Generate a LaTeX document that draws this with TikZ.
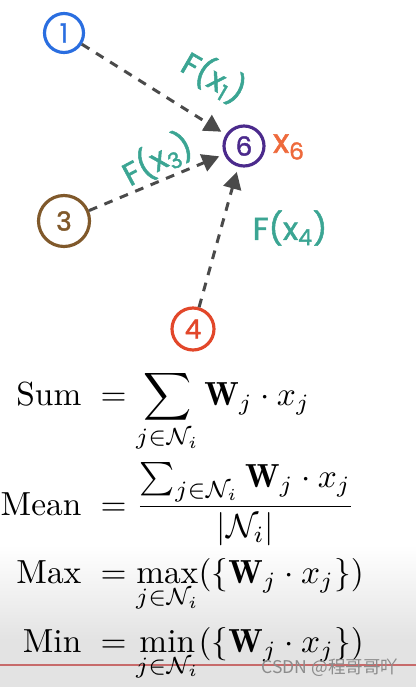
\documentclass[tikz,border=0pt]{standalone}
\usepackage{amsmath}
\usepackage{fontspec}
\newfontfamily\handfont{Poppins}[FakeBold=1.6]
\newfontfamily\cjkfont{Noto Sans CJK SC}
\usetikzlibrary{arrows.meta}
\definecolor{nblue}{HTML}{2A6EE0}
\definecolor{npurple}{HTML}{4B2A8C}
\definecolor{nbrown}{HTML}{80592B}
\definecolor{nred}{HTML}{E2472A}
\definecolor{xorange}{HTML}{EE6A3C}
\definecolor{fteal}{HTML}{3BA593}
\definecolor{agray}{HTML}{4A4A4A}

\begin{document}
\begin{tikzpicture}[x=0.02cm,y=-0.02cm,nd/.style={circle,draw,line width=1.8pt,inner sep=0pt,minimum size=0.78cm,font=\handfont\fontsize{15}{15}\selectfont},a/.style={-{Triangle[length=3.4mm,width=3.6mm]},dash pattern=on 5pt off 4.5pt,line width=1.7pt,draw=agray,shorten >=3pt},lbl/.style={text=fteal,font=\handfont\fontsize{18}{18}\selectfont},eq/.style={inner sep=0pt,scale=1.9,transform shape}]
\useasboundingbox (0,0) rectangle (416,687);
% video overlay at the bottom
\shade[top color=white,bottom color=black!11] (0,545) rectangle (416,640);
\fill[black!11] (0,640) rectangle (416,687);
\draw[red!45!gray!80,line width=0.6pt] (0,665) -- (416,665);
% graph
\node[nd,draw=nblue,text=nblue] (n1) at (64,33) {1};
\node[nd,draw=npurple,text=npurple,minimum size=0.8cm] (n6) at (244,146) {6};
\node[nd,draw=nbrown,text=nbrown,minimum size=1.02cm] (n3) at (64,221) {3};
\node[nd,draw=nred,text=nred,minimum size=0.84cm] (n4) at (193,329) {4};
\node[text=xorange,font=\handfont\fontsize{19}{19}\selectfont] (x6) at (289,147) {x\textsubscript{6}};
\draw[a] (n1) -- (n6); \draw[a] (n3) -- (n6); \draw[a] (n4) -- (n6);
\node[lbl,rotate=-30] (f1) at (214,77) {F(x\textsubscript{1})};
\node[lbl,rotate=28] (f3) at (157,159) {F(x\textsubscript{3})};
\node[lbl] (f4) at (290,228) {F(x\textsubscript{4})};
% aggregation functions
\node[eq,anchor=base east] (sum) at (82,405) {Sum};
\node[eq,anchor=base west] (sumr) at (100,405) {$\displaystyle = \sum_{j\in\mathcal{N}_i}\mathbf{W}_j\cdot x_j$};
\node[eq,anchor=base east] (mean) at (82,515) {Mean};
\node[eq,anchor=base west] (meanr) at (100,515) {$\displaystyle = \frac{\sum_{j\in\mathcal{N}_i}\mathbf{W}_j\cdot x_j}{|\mathcal{N}_i|}$};
\node[eq,anchor=base east] (max) at (82,583) {Max};
\node[eq,anchor=base west] (maxr) at (100,583) {$\displaystyle = \max_{j\in\mathcal{N}_i}(\{\mathbf{W}_j\cdot x_j\})$};
\node[eq,anchor=base east] (min) at (82,652) {Min};
\node[eq,anchor=base west] (minr) at (100,652) {$\displaystyle = \min_{j\in\mathcal{N}_i}(\{\mathbf{W}_j\cdot x_j\})$};
\node[text=black!45,font=\cjkfont\fontsize{10}{10}\selectfont] (wm) at (330,668) {CSDN @程哥哥吖};
\end{tikzpicture}
\end{document}
